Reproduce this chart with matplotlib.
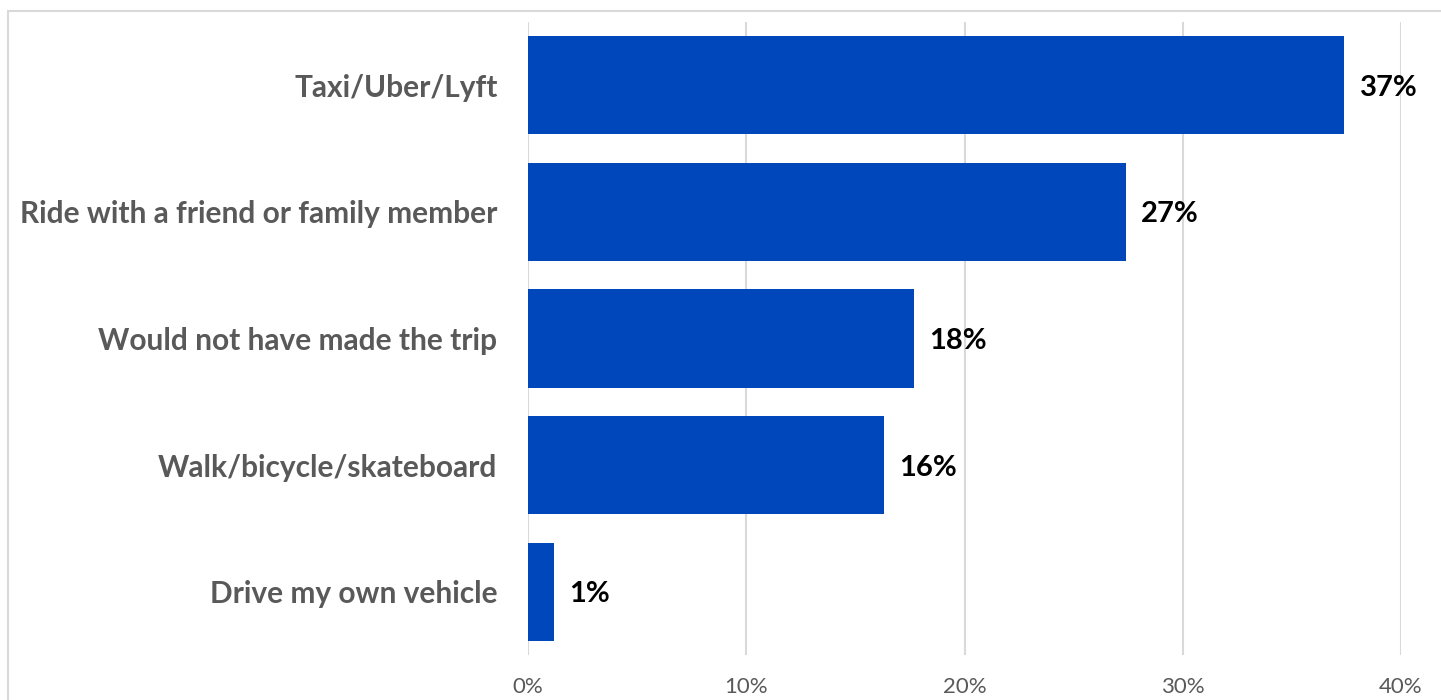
import matplotlib
matplotlib.use("Agg")
import matplotlib.pyplot as plt
from matplotlib.patches import Rectangle

categories = [
    "Taxi/Uber/Lyft",
    "Ride with a friend or family member",
    "Would not have made the trip",
    "Walk/bicycle/skateboard",
    "Drive my own vehicle",
]
shares = [37.4, 27.4, 17.7, 16.3, 1.2]
xticks = [0, 10, 20, 30, 40]
xtick_labels = ["0%", "10%", "20%", "30%", "40%"]

BAR = "#0047BB"
GRID = "#D9D9D9"
LABEL = "#595959"
FONT = ["Lato", "DejaVu Sans"]

W, H = 1441, 700
fig = plt.figure(figsize=(W / 100, H / 100), dpi=100)
fig.patch.set_facecolor("white")

# chart frame
fig.patches.append(Rectangle((8 / W, -0.1), 1.2, 1 - 11 / H + 0.1, transform=fig.transFigure,
                             fill=False, edgecolor=GRID, linewidth=1.5))

ax = fig.add_axes([528 / W, 1 - 655 / H, (1401 - 528) / W, (655 - 22) / H])
ypos = list(range(len(categories)))
ax.barh(ypos, shares, height=0.775, color=BAR, zorder=3)
ax.set_ylim(len(categories) - 0.5, -0.5)
ax.set_xlim(0, 40)

ax.set_xticks(xticks)
ax.set_xticklabels(xtick_labels, fontfamily=FONT, fontsize=16, color=LABEL)
ax.set_yticks(ypos)
ax.set_yticklabels(categories, fontfamily=FONT, fontsize=21.5, fontweight="bold", color=LABEL)
ax.tick_params(axis="both", length=0)
ax.tick_params(axis="y", pad=22)
ax.tick_params(axis="x", pad=16)

ax.grid(axis="x", color=GRID, linewidth=1.5, zorder=0)
for s in ax.spines.values():
    s.set_visible(False)

for y, v in zip(ypos, shares):
    ax.text(v + 0.7, y + 0.02, f"{v:.0f}%", va="center", ha="left",
            fontfamily=FONT, fontsize=21, fontweight="bold", color="black")

fig.savefig("out.png", dpi=100, facecolor="white")
